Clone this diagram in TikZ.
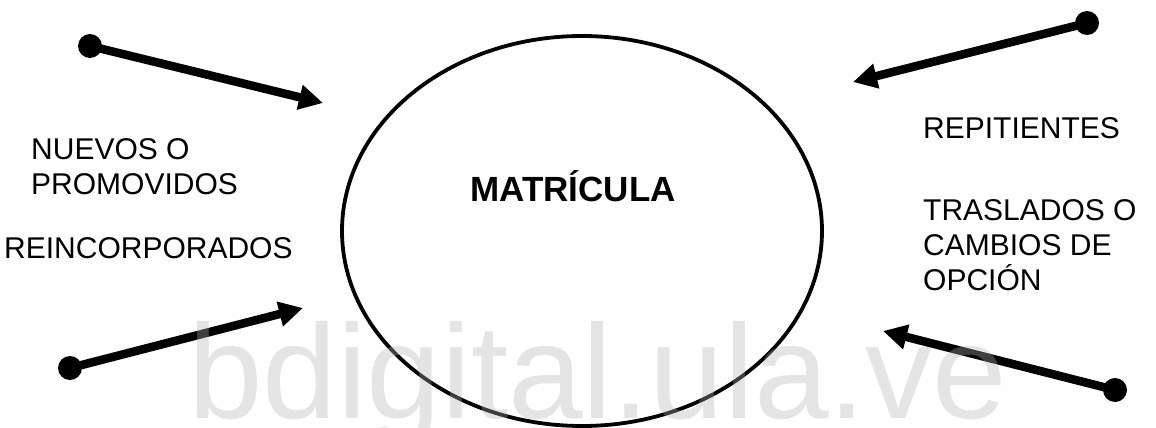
\documentclass[tikz,border=0pt]{standalone}
\usepackage{fontspec}
\setmainfont{Liberation Sans}
\usetikzlibrary{arrows.meta,shapes.geometric}
\begin{document}
\begin{tikzpicture}[x=1pt,y=-1pt,
  dotnode/.style={circle,fill=black,inner sep=0pt,minimum size=24pt},
  flowarrow/.style={line width=8.5pt,-{Triangle[length=24pt,width=24pt]}},
  lbl/.style={anchor=base west,inner sep=0pt,font=\fontsize{30}{35}\selectfont},
  ovalnode/.style={draw,ellipse,line width=3.8pt,minimum width=480pt,minimum height=390pt,inner sep=0pt}]
\useasboundingbox (0,0) rectangle (1156,428);
\fill[white] (0,0) rectangle (1156,428);
% ellipse
\node[ovalnode] (mat) at (582,231) {};
\node[anchor=base,inner sep=0pt,font=\fontsize{35}{40}\bfseries] (title) at (573,201) {MATRÍCULA};
% dots and arrow tips
\node[dotnode] (d1) at (90,46) {};
\node[dotnode] (d2) at (70,368) {};
\node[dotnode] (d3) at (1087,23) {};
\node[dotnode] (d4) at (1115,390) {};
\coordinate (t1) at (323,103);
\coordinate (t2) at (303,308);
\coordinate (t3) at (853,82);
\coordinate (t4) at (883,331);
\draw[flowarrow] (d1.center) -- (t1);
\draw[flowarrow] (d2.center) -- (t2);
\draw[flowarrow] (d3.center) -- (t3);
\draw[flowarrow] (d4.center) -- (t4);
% labels
\node[lbl] (l1) at (31,159) {NUEVOS O};
\node[lbl] (l2) at (31,194) {PROMOVIDOS};
\node[lbl] (l3) at (4,258) {REINCORPORADOS};
\node[lbl] (r1) at (923,138) {REPITIENTES};
\node[lbl] (r2) at (923,220) {TRASLADOS O};
\node[lbl] (r3) at (923,255) {CAMBIOS DE};
\node[lbl] (r4) at (923,290) {OPCIÓN};
% watermark
\node[anchor=base west,inner sep=0pt,text=black!30,text opacity=0.35,font=\fontsize{134}{134}\selectfont] (wm) at (188,418) {bdigital.ula.ve};
\end{tikzpicture}
\end{document}
